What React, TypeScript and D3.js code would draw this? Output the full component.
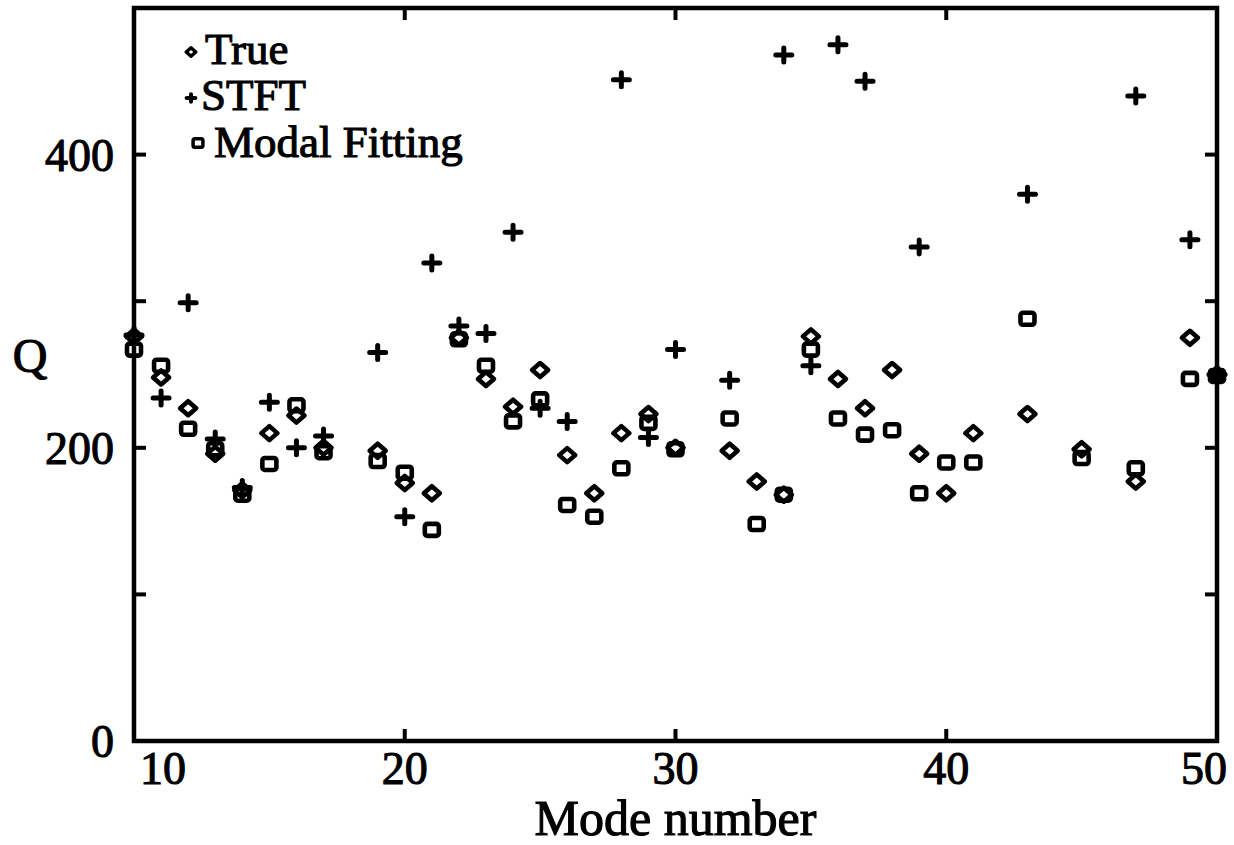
import React from "react";
import * as d3 from "d3";

const modes = [10, 11, 12, 13, 14, 15, 16, 17, 19, 20, 21, 22, 23, 24, 25, 26, 27, 28, 29, 30, 32, 33, 34, 35, 36, 37, 38, 39, 40, 41, 43, 45, 47, 49, 50];
const trueQ = [276, 248, 227, 196, 171, 210, 222, 200, 198, 176, 169, 275, 247, 228, 253, 195, 169, 210, 223, 200, 198, 177, 168, 276, 247, 227, 253, 196, 169, 210, 223, 199, 177, 275, 250];
const stftQ: (number | null)[] = [277, 234, 299, 206, 173, 231, 200, 208, 265, 153, 326, 283, 278, 347, 227, 218, null, 451, 207, 267, 246, null, 468, 256, 475, 450, null, 337, null, null, 373, null, 440, 342, 250];
const modalQ = [267, 256, 213, 199, 168, 189, 229, 197, 191, 183, 144, 274, 256, 218, 233, 161, 153, 186, 217, 199, 220, 148, 168, 267, 220, 209, 212, 169, 190, 190, 288, 193, 186, 247, 249];

const xTicks = [20, 30, 40];
const xLabels = [10, 20, 30, 40, 50];
const yTicks = [100, 200, 300, 400];
const yLabels = [0, 200, 400];
const legendNames = ["True", "STFT", "Modal Fitting"];

const FONT = "'Liberation Serif', 'Times New Roman', serif";
const TS = 1.1; // text stroke for heavier scanned look

function Diamond({ x, y, s = 1 }: { x: number; y: number; s?: number }) {
  return (
    <path
      d={`M${x - 8 * s},${y} L${x},${y - 7 * s} L${x + 8 * s},${y} L${x},${y + 7 * s} Z`}
      fill="none"
      stroke="#000"
      strokeWidth={s < 1 ? 3.5 : 4.6}
      strokeLinejoin="round"
    />
  );
}

function Square({ x, y, s = 1 }: { x: number; y: number; s?: number }) {
  return (
    <rect
      x={x - 7 * s}
      y={y - 6 * s}
      width={14 * s}
      height={12 * s}
      rx={2.5 * s}
      fill="none"
      stroke="#000"
      strokeWidth={s < 1 ? 3.5 : 4.6}
    />
  );
}

function Plus({ x, y, s = 1 }: { x: number; y: number; s?: number }) {
  return (
    <path
      d={`M${x - 8 * s},${y} L${x + 8 * s},${y} M${x},${y - 7 * s} L${x},${y + 7 * s}`}
      stroke="#000"
      strokeWidth={s < 1 ? 4 : 5}
      strokeLinecap="round"
      fill="none"
    />
  );
}

export default function App() {
  const W = 1234;
  const H = 845;
  const left = 134;
  const right = 1217;
  const top = 8;
  const bottom = 741;

  const x = d3.scaleLinear().domain([10, 50]).range([left, right]);
  const y = d3.scaleLinear().domain([0, 500]).range([bottom, top]);

  const tickLen = 12;

  return (
    <svg
      width={W}
      height={H}
      style={{ position: "absolute", left: 0, top: 0, background: "#fff" }}
      fontFamily={FONT}
    >
      <rect x={0} y={0} width={W} height={H} fill="#fff" />
      {/* frame */}
      <rect
        x={left}
        y={top}
        width={right - left}
        height={bottom - top}
        fill="none"
        stroke="#000"
        strokeWidth={4.5}
      />
      {/* x ticks (top and bottom, inward) */}
      {xTicks.map((t) => (
        <g key={"xt" + t}>
          <line x1={x(t)} x2={x(t)} y1={bottom} y2={bottom - tickLen} stroke="#000" strokeWidth={4} />
          <line x1={x(t)} x2={x(t)} y1={top} y2={top + tickLen} stroke="#000" strokeWidth={4} />
        </g>
      ))}
      {/* y ticks (left and right, inward) */}
      {yTicks.map((t) => (
        <g key={"yt" + t}>
          <line x1={left} x2={left + tickLen} y1={y(t)} y2={y(t)} stroke="#000" strokeWidth={4} />
          <line x1={right} x2={right - tickLen} y1={y(t)} y2={y(t)} stroke="#000" strokeWidth={4} />
        </g>
      ))}
      {/* x labels */}
      {xLabels.map((t, i) => (
        <text
          key={"xl" + t}
          x={i === 0 ? x(t) + 6 : i === xLabels.length - 1 ? x(t) + 10 : x(t)}
          y={784}
          fontSize={46}
          textAnchor={i === 0 ? "start" : i === xLabels.length - 1 ? "end" : "middle"}
          fill="#000"
          stroke="#000"
          strokeWidth={TS}
        >
          {t}
        </text>
      ))}
      {/* y labels */}
      {yLabels.map((t) => (
        <text
          key={"yl" + t}
          x={114}
          y={y(t) + 16}
          fontSize={46}
          textAnchor="end"
          fill="#000"
          stroke="#000"
          strokeWidth={TS}
        >
          {t}
        </text>
      ))}
      {/* axis titles */}
      <text x={(left + right) / 2} y={835} fontSize={50} textAnchor="middle" fill="#000" stroke="#000" strokeWidth={TS}>
        Mode number
      </text>
      <text x={30} y={372} fontSize={48} textAnchor="middle" fill="#000" stroke="#000" strokeWidth={TS}>
        Q
      </text>

      {/* data */}
      <g>
        {modes.map((m, i) => (
          <Square key={"s" + m} x={x(m)} y={y(modalQ[i])} />
        ))}
        {modes.map((m, i) => (
          <Diamond key={"d" + m} x={x(m)} y={y(trueQ[i])} />
        ))}
        {modes.map((m, i) =>
          stftQ[i] == null ? null : <Plus key={"p" + m} x={x(m)} y={y(stftQ[i] as number)} />
        )}
      </g>

      {/* legend */}
      <g>
        <Diamond x={191} y={52} s={0.6} />
        <text x={205} y={64} fontSize={45} fill="#000" stroke="#000" strokeWidth={TS}>
          {legendNames[0]}
        </text>
        <Plus x={191} y={98} s={0.55} />
        <text x={201} y={110} fontSize={45} fill="#000" stroke="#000" strokeWidth={TS}>
          {legendNames[1]}
        </text>
        <Square x={198} y={143} s={0.7} />
        <text x={214} y={157} fontSize={45} fill="#000" stroke="#000" strokeWidth={TS}>
          {legendNames[2]}
        </text>
      </g>
    </svg>
  );
}
